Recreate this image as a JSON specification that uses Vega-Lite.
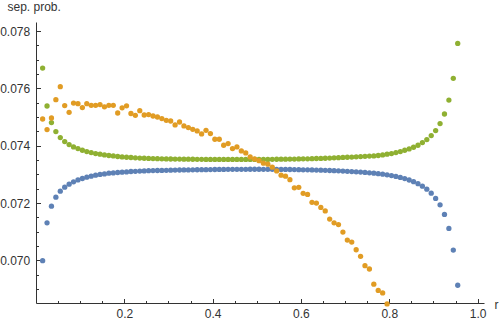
{
 "$schema": "https://vega.github.io/schema/vega-lite/v6.json",
 "width": 448, "height": 281,
 "autosize": {"type": "none"},
 "padding": {"left": 36, "top": 22, "right": 16, "bottom": 17},
 "background": "white",
 "config": {"view": {"stroke": null}, "font": "Liberation Sans", "axis": {"grid": false}},
 "datasets": {
  "minor": [],
  "pts": [
{"s":"b","r":0.015,"v":0.069986},{"s":"b","r":0.025,"v":0.071310},{"s":"b","r":0.035,"v":0.071892},{"s":"b","r":0.045,"v":0.072206},{"s":"b","r":0.055,"v":0.072415},{"s":"b","r":0.065,"v":0.072554},{"s":"b","r":0.075,"v":0.072659},{"s":"b","r":0.085,"v":0.072739},{"s":"b","r":0.095,"v":0.072808},{"s":"b","r":0.105,"v":0.072857},
{"s":"b","r":0.115,"v":0.072902},{"s":"b","r":0.125,"v":0.072937},{"s":"b","r":0.135,"v":0.072972},{"s":"b","r":0.145,"v":0.072997},{"s":"b","r":0.155,"v":0.073017},{"s":"b","r":0.165,"v":0.073042},{"s":"b","r":0.175,"v":0.073052},{"s":"b","r":0.185,"v":0.073066},{"s":"b","r":0.195,"v":0.073077},{"s":"b","r":0.205,"v":0.073087},
{"s":"b","r":0.215,"v":0.073101},{"s":"b","r":0.225,"v":0.073108},{"s":"b","r":0.235,"v":0.073115},{"s":"b","r":0.245,"v":0.073122},{"s":"b","r":0.255,"v":0.073129},{"s":"b","r":0.265,"v":0.073132},{"s":"b","r":0.275,"v":0.073136},{"s":"b","r":0.285,"v":0.073139},{"s":"b","r":0.295,"v":0.073143},{"s":"b","r":0.305,"v":0.073146},
{"s":"b","r":0.315,"v":0.073150},{"s":"b","r":0.325,"v":0.073153},{"s":"b","r":0.335,"v":0.073155},{"s":"b","r":0.345,"v":0.073157},{"s":"b","r":0.355,"v":0.073160},{"s":"b","r":0.365,"v":0.073162},{"s":"b","r":0.375,"v":0.073164},{"s":"b","r":0.385,"v":0.073166},{"s":"b","r":0.395,"v":0.073168},{"s":"b","r":0.405,"v":0.073170},
{"s":"b","r":0.415,"v":0.073172},{"s":"b","r":0.425,"v":0.073174},{"s":"b","r":0.435,"v":0.073175},{"s":"b","r":0.445,"v":0.073176},{"s":"b","r":0.455,"v":0.073177},{"s":"b","r":0.465,"v":0.073178},{"s":"b","r":0.475,"v":0.073178},{"s":"b","r":0.485,"v":0.073179},{"s":"b","r":0.495,"v":0.073179},{"s":"b","r":0.505,"v":0.073179},
{"s":"b","r":0.515,"v":0.073178},{"s":"b","r":0.525,"v":0.073178},{"s":"b","r":0.535,"v":0.073177},{"s":"b","r":0.545,"v":0.073176},{"s":"b","r":0.555,"v":0.073174},{"s":"b","r":0.565,"v":0.073172},{"s":"b","r":0.575,"v":0.073170},{"s":"b","r":0.585,"v":0.073167},{"s":"b","r":0.595,"v":0.073164},{"s":"b","r":0.605,"v":0.073161},
{"s":"b","r":0.615,"v":0.073158},{"s":"b","r":0.625,"v":0.073154},{"s":"b","r":0.635,"v":0.073151},{"s":"b","r":0.645,"v":0.073146},{"s":"b","r":0.655,"v":0.073142},{"s":"b","r":0.665,"v":0.073136},{"s":"b","r":0.675,"v":0.073130},{"s":"b","r":0.685,"v":0.073123},{"s":"b","r":0.695,"v":0.073116},{"s":"b","r":0.705,"v":0.073108},
{"s":"b","r":0.715,"v":0.073100},{"s":"b","r":0.725,"v":0.073091},{"s":"b","r":0.735,"v":0.073080},{"s":"b","r":0.745,"v":0.073069},{"s":"b","r":0.755,"v":0.073056},{"s":"b","r":0.765,"v":0.073042},{"s":"b","r":0.775,"v":0.073024},{"s":"b","r":0.785,"v":0.073006},{"s":"b","r":0.795,"v":0.072984},{"s":"b","r":0.805,"v":0.072958},
{"s":"b","r":0.815,"v":0.072928},{"s":"b","r":0.825,"v":0.072893},{"s":"b","r":0.835,"v":0.072853},{"s":"b","r":0.845,"v":0.072804},{"s":"b","r":0.855,"v":0.072746},{"s":"b","r":0.865,"v":0.072676},{"s":"b","r":0.875,"v":0.072589},{"s":"b","r":0.885,"v":0.072484},{"s":"b","r":0.895,"v":0.072345},{"s":"b","r":0.905,"v":0.072160},
{"s":"b","r":0.915,"v":0.071937},{"s":"b","r":0.925,"v":0.071603},{"s":"b","r":0.935,"v":0.071115},{"s":"b","r":0.945,"v":0.070359},{"s":"b","r":0.955,"v":0.069129},
{"s":"g","r":0.015,"v":0.076711},{"s":"g","r":0.025,"v":0.075387},{"s":"g","r":0.035,"v":0.074808},{"s":"g","r":0.045,"v":0.074495},{"s":"g","r":0.055,"v":0.074286},{"s":"g","r":0.065,"v":0.074146},{"s":"g","r":0.075,"v":0.074042},{"s":"g","r":0.085,"v":0.073958},{"s":"g","r":0.095,"v":0.073902},{"s":"g","r":0.105,"v":0.073843},
{"s":"g","r":0.115,"v":0.073798},{"s":"g","r":0.125,"v":0.073763},{"s":"g","r":0.135,"v":0.073728},{"s":"g","r":0.145,"v":0.073704},{"s":"g","r":0.155,"v":0.073679},{"s":"g","r":0.165,"v":0.073659},{"s":"g","r":0.175,"v":0.073645},{"s":"g","r":0.185,"v":0.073624},{"s":"g","r":0.195,"v":0.073610},{"s":"g","r":0.205,"v":0.073599},
{"s":"g","r":0.215,"v":0.073589},{"s":"g","r":0.225,"v":0.073580},{"s":"g","r":0.235,"v":0.073571},{"s":"g","r":0.245,"v":0.073564},{"s":"g","r":0.255,"v":0.073557},{"s":"g","r":0.265,"v":0.073552},{"s":"g","r":0.275,"v":0.073547},{"s":"g","r":0.285,"v":0.073543},{"s":"g","r":0.295,"v":0.073540},{"s":"g","r":0.305,"v":0.073537},
{"s":"g","r":0.315,"v":0.073535},{"s":"g","r":0.325,"v":0.073533},{"s":"g","r":0.335,"v":0.073531},{"s":"g","r":0.345,"v":0.073530},{"s":"g","r":0.355,"v":0.073528},{"s":"g","r":0.365,"v":0.073526},{"s":"g","r":0.375,"v":0.073526},{"s":"g","r":0.385,"v":0.073524},{"s":"g","r":0.395,"v":0.073524},{"s":"g","r":0.405,"v":0.073523},
{"s":"g","r":0.415,"v":0.073523},{"s":"g","r":0.425,"v":0.073523},{"s":"g","r":0.435,"v":0.073523},{"s":"g","r":0.445,"v":0.073523},{"s":"g","r":0.455,"v":0.073523},{"s":"g","r":0.465,"v":0.073523},{"s":"g","r":0.475,"v":0.073523},{"s":"g","r":0.485,"v":0.073523},{"s":"g","r":0.495,"v":0.073523},{"s":"g","r":0.505,"v":0.073523},
{"s":"g","r":0.515,"v":0.073524},{"s":"g","r":0.525,"v":0.073524},{"s":"g","r":0.535,"v":0.073526},{"s":"g","r":0.545,"v":0.073528},{"s":"g","r":0.555,"v":0.073530},{"s":"g","r":0.565,"v":0.073531},{"s":"g","r":0.575,"v":0.073533},{"s":"g","r":0.585,"v":0.073535},{"s":"g","r":0.595,"v":0.073538},{"s":"g","r":0.605,"v":0.073542},
{"s":"g","r":0.615,"v":0.073545},{"s":"g","r":0.625,"v":0.073549},{"s":"g","r":0.635,"v":0.073554},{"s":"g","r":0.645,"v":0.073559},{"s":"g","r":0.655,"v":0.073564},{"s":"g","r":0.665,"v":0.073570},{"s":"g","r":0.675,"v":0.073577},{"s":"g","r":0.685,"v":0.073584},{"s":"g","r":0.695,"v":0.073591},{"s":"g","r":0.705,"v":0.073598},
{"s":"g","r":0.715,"v":0.073605},{"s":"g","r":0.725,"v":0.073613},{"s":"g","r":0.735,"v":0.073622},{"s":"g","r":0.745,"v":0.073631},{"s":"g","r":0.755,"v":0.073638},{"s":"g","r":0.765,"v":0.073645},{"s":"g","r":0.775,"v":0.073659},{"s":"g","r":0.785,"v":0.073679},{"s":"g","r":0.795,"v":0.073704},{"s":"g","r":0.805,"v":0.073728},
{"s":"g","r":0.815,"v":0.073763},{"s":"g","r":0.825,"v":0.073798},{"s":"g","r":0.835,"v":0.073843},{"s":"g","r":0.845,"v":0.073889},{"s":"g","r":0.855,"v":0.073948},{"s":"g","r":0.865,"v":0.074017},{"s":"g","r":0.875,"v":0.074111},{"s":"g","r":0.885,"v":0.074216},{"s":"g","r":0.895,"v":0.074355},{"s":"g","r":0.905,"v":0.074530},
{"s":"g","r":0.915,"v":0.074774},{"s":"g","r":0.925,"v":0.075108},{"s":"g","r":0.935,"v":0.075596},{"s":"g","r":0.945,"v":0.076352},{"s":"g","r":0.955,"v":0.077571},
{"s":"o","r":0.015,"v":0.074934},{"s":"o","r":0.025,"v":0.074564},{"s":"o","r":0.035,"v":0.074969},{"s":"o","r":0.045,"v":0.075610},{"s":"o","r":0.055,"v":0.076063},{"s":"o","r":0.065,"v":0.075401},{"s":"o","r":0.075,"v":0.075167},{"s":"o","r":0.085,"v":0.075491},{"s":"o","r":0.095,"v":0.075470},{"s":"o","r":0.105,"v":0.075331},
{"s":"o","r":0.115,"v":0.075470},{"s":"o","r":0.125,"v":0.075411},{"s":"o","r":0.135,"v":0.075411},{"s":"o","r":0.145,"v":0.075436},{"s":"o","r":0.155,"v":0.075359},{"s":"o","r":0.165,"v":0.075411},{"s":"o","r":0.175,"v":0.075411},{"s":"o","r":0.185,"v":0.075143},{"s":"o","r":0.195,"v":0.075324},{"s":"o","r":0.205,"v":0.075394},
{"s":"o","r":0.215,"v":0.075125},{"s":"o","r":0.225,"v":0.075063},{"s":"o","r":0.235,"v":0.075226},{"s":"o","r":0.245,"v":0.075073},{"s":"o","r":0.255,"v":0.075087},{"s":"o","r":0.265,"v":0.075038},{"s":"o","r":0.275,"v":0.075003},{"s":"o","r":0.285,"v":0.074948},{"s":"o","r":0.295,"v":0.074889},{"s":"o","r":0.305,"v":0.074864},
{"s":"o","r":0.315,"v":0.074725},{"s":"o","r":0.325,"v":0.074829},{"s":"o","r":0.335,"v":0.074690},{"s":"o","r":0.345,"v":0.074634},{"s":"o","r":0.355,"v":0.074575},{"s":"o","r":0.365,"v":0.074516},{"s":"o","r":0.375,"v":0.074411},{"s":"o","r":0.385,"v":0.074540},{"s":"o","r":0.395,"v":0.074425},{"s":"o","r":0.405,"v":0.074226},
{"s":"o","r":0.415,"v":0.074226},{"s":"o","r":0.425,"v":0.074017},{"s":"o","r":0.435,"v":0.074077},{"s":"o","r":0.445,"v":0.073902},{"s":"o","r":0.455,"v":0.073958},{"s":"o","r":0.465,"v":0.073819},{"s":"o","r":0.475,"v":0.073749},{"s":"o","r":0.485,"v":0.073610},{"s":"o","r":0.495,"v":0.073540},{"s":"o","r":0.505,"v":0.073477},
{"s":"o","r":0.515,"v":0.073390},{"s":"o","r":0.525,"v":0.073355},{"s":"o","r":0.535,"v":0.073251},{"s":"o","r":0.545,"v":0.073122},{"s":"o","r":0.555,"v":0.072972},{"s":"o","r":0.565,"v":0.072937},{"s":"o","r":0.575,"v":0.072815},{"s":"o","r":0.585,"v":0.072530},{"s":"o","r":0.595,"v":0.072547},{"s":"o","r":0.605,"v":0.072338},
{"s":"o","r":0.615,"v":0.072300},{"s":"o","r":0.625,"v":0.072024},{"s":"o","r":0.635,"v":0.071997},{"s":"o","r":0.645,"v":0.071847},{"s":"o","r":0.655,"v":0.071725},{"s":"o","r":0.665,"v":0.071439},{"s":"o","r":0.675,"v":0.071310},{"s":"o","r":0.685,"v":0.071247},{"s":"o","r":0.695,"v":0.070986},{"s":"o","r":0.705,"v":0.070707},
{"s":"o","r":0.715,"v":0.070638},{"s":"o","r":0.725,"v":0.070369},{"s":"o","r":0.735,"v":0.070139},{"s":"o","r":0.745,"v":0.069812},{"s":"o","r":0.755,"v":0.069697},{"s":"o","r":0.765,"v":0.069167},{"s":"o","r":0.775,"v":0.068948},{"s":"o","r":0.785,"v":0.068861},{"s":"o","r":0.795,"v":0.068477}
  ]
 },
 "layer": [
  {
   "data": {"name": "pts"},
   "mark": {"type": "point", "filled": true, "size": 28, "opacity": 1},
   "encoding": {
    "x": {"field": "r", "type": "quantitative",
          "scale": {"domain": [0, 1.0145], "nice": false, "zero": false},
          "axis": {"orient": "bottom", "values": [0.2, 0.4, 0.6, 0.8, 1.0], "format": ".1f",
                   "domainColor": "#333", "tickColor": "#333", "tickSize": -4.5, "labelPadding": 9.5,
                   "labelFontSize": 12, "labelColor": "#333", "labelFlush": false, "labelOverlap": false,
                   "title": "r", "titleFontSize": 12, "titleFontWeight": "normal", "titleColor": "#333",
                   "titleX": 458, "titleY": 5.3, "titleAlign": "left", "titleBaseline": "alphabetic", "titleAngle": 0}},
    "y": {"field": "v", "type": "quantitative",
          "scale": {"domain": [0.06851, 0.07832], "nice": false, "zero": false},
          "axis": {"orient": "left", "values": [0.070, 0.072, 0.074, 0.076, 0.078], "format": ".3f",
                   "domainColor": "#333", "tickColor": "#333", "tickSize": -4.5, "labelPadding": 10.8,
                   "labelFontSize": 12, "labelColor": "#333", "labelFlush": false, "labelOverlap": false,
                   "title": "sep. prob.", "titleFontSize": 12, "titleFontWeight": "normal", "titleColor": "#333",
                   "titleX": -29, "titleY": -12, "titleAlign": "left", "titleBaseline": "alphabetic", "titleAngle": 0}},
    "color": {"field": "s", "type": "nominal",
              "scale": {"domain": ["b", "g", "o"], "range": ["#5E81B5", "#8FB032", "#E19C24"]},
              "legend": null}
   }
  },
  {
   "data": {"name": "minor"},
   "mark": {"type": "point", "opacity": 0},
   "encoding": {
    "x": {"field": "r", "type": "quantitative",
          "axis": {"orient": "bottom", "values": [0.05, 0.1, 0.15, 0.25, 0.3, 0.35, 0.45, 0.5, 0.55, 0.65, 0.7, 0.75, 0.85, 0.9, 0.95],
                   "domain": false, "labels": false, "tickColor": "#333", "tickSize": -2.5, "title": null}},
    "y": {"field": "v", "type": "quantitative",
          "axis": {"orient": "left", "values": [0.069, 0.0695, 0.0705, 0.071, 0.0715, 0.0725, 0.073, 0.0735, 0.0745, 0.075, 0.0755, 0.0765, 0.077, 0.0775],
                   "domain": false, "labels": false, "tickColor": "#333", "tickSize": -2.5, "title": null}}
   }
  }
 ],
 "resolve": {"axis": {"x": "independent", "y": "independent"}}
}
